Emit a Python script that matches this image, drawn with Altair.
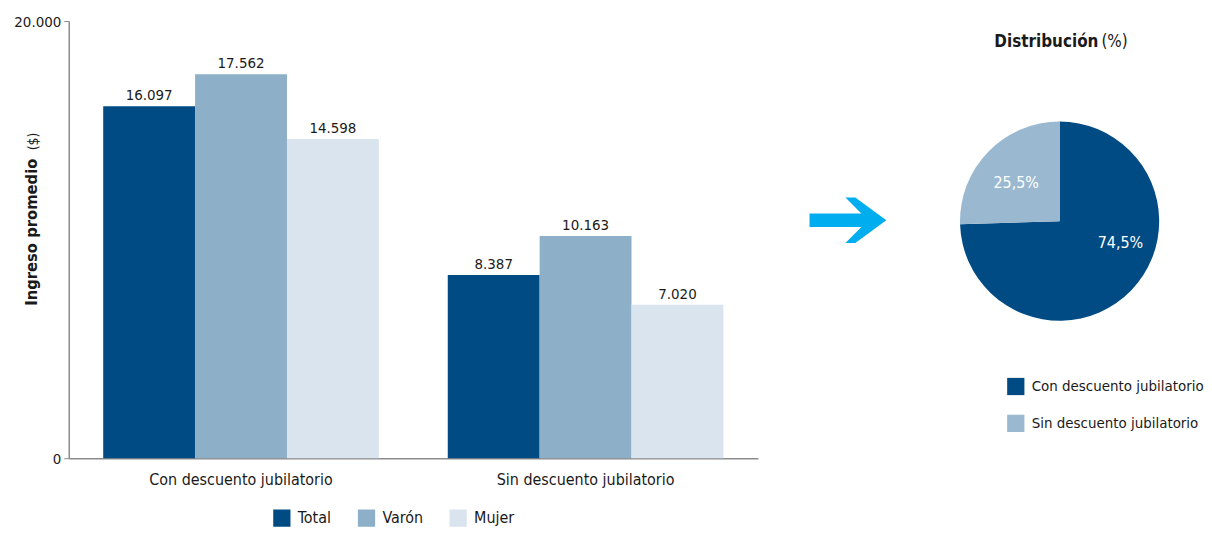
import altair as alt
import pandas as pd

# ---------------- data ----------------
categorias = ["Con descuento jubilatorio", "Sin descuento jubilatorio"]
grupos = ["Total", "Varón", "Mujer"]
total = [16097, 8387]
varon = [17562, 10163]
mujer = [14598, 7020]
y_ticks = [0, 20000]

pie_cats = ["Con descuento jubilatorio", "Sin descuento jubilatorio"]
pie_vals = [74.5, 25.5]

titulo_y = "Ingreso promedio"
titulo_y_unidad = "($)"
titulo_pie = "Distribución"
titulo_pie_unidad = "(%)"

rows = []
for i, c in enumerate(categorias):
    for g, vals in zip(grupos, [total, varon, mujer]):
        rows.append({"cat": c, "grupo": g, "valor": vals[i]})
df = pd.DataFrame(rows)

pdf = pd.DataFrame({"cat": pie_cats, "pct": pie_vals, "orden": list(range(len(pie_cats)))})

FONT = "DejaVu Sans Condensed"
TXT = "#1a1a1a"
bar_colors = ["#004B84", "#8EAFC8", "#D9E4EE"]
pie_colors = ["#004B84", "#9AB8CF"]

# ---------------- bar chart ----------------
base = alt.Chart(df).transform_calculate(
    lab="replace(format(datum.valor, ','), ',', '.')"
).encode(
    x=alt.X(
        "cat:N", sort=categorias,
        scale=alt.Scale(paddingInner=0.2, paddingOuter=0.1),
        axis=alt.Axis(title=None, labelAngle=0, ticks=False, labelFontSize=16,
                      labelPadding=13, domainColor="#8c8c8c", domainWidth=1.5,
                      labelColor=TXT, labelLimit=400),
    ),
    xOffset=alt.XOffset("grupo:N", sort=grupos),
    y=alt.Y(
        "valor:Q",
        scale=alt.Scale(domain=[0, 20000]),
        axis=alt.Axis(values=y_ticks, title=None,
                      labelExpr="replace(format(datum.value, ','), ',', '.')",
                      grid=False, labelFontSize=15, labelColor=TXT,
                      domainColor="#8c8c8c", domainWidth=1.5,
                      tickColor="#8c8c8c", tickSize=5, labelPadding=3),
    ),
)

bars = base.mark_bar().encode(
    color=alt.Color(
        "grupo:N", sort=grupos,
        scale=alt.Scale(domain=grupos, range=bar_colors),
        legend=alt.Legend(title=None, orient="none", direction="horizontal",
                          legendX=205, legendY=490,
                          symbolType="square", symbolSize=300, symbolStrokeWidth=0,
                          labelFontSize=16, labelColor=TXT, columnPadding=26,
                          labelOffset=7),
    )
)
bar_labels = base.mark_text(dy=-11, fontSize=15, color=TXT).encode(text="lab:N")

ydf = pd.DataFrame({"t": [titulo_y], "u": [titulo_y_unidad]})
ytitle_bold = alt.Chart(ydf).mark_text(angle=270, fontSize=16.5, fontWeight="bold",
                                       align="left", color=TXT).encode(
    text="t:N", x=alt.value(-37), y=alt.value(286))
ytitle_unit = alt.Chart(ydf).mark_text(angle=270, fontSize=14, align="right",
                                       color=TXT).encode(
    text="u:N", x=alt.value(-35), y=alt.value(112))

bar_chart = alt.layer(bars, bar_labels, ytitle_bold, ytitle_unit).properties(
    width=692, height=439)

# ---------------- pie + arrow ----------------
CX, CY = 303, 201

pbase = alt.Chart(pdf).transform_calculate(
    lab="replace(format(datum.pct, '.1f'), '.', ',') + '%'"
).encode(
    theta=alt.Theta("pct:Q", stack=True),
    order=alt.Order("orden:Q"),
)
arc = pbase.mark_arc(radius=100).encode(
    x=alt.value(CX), y=alt.value(CY),
    color=alt.Color(
        "cat:N", sort=pie_cats,
        scale=alt.Scale(domain=pie_cats, range=pie_colors),
        legend=alt.Legend(title=None, orient="none", legendX=250, legendY=358,
                          symbolType="square", symbolSize=300, symbolStrokeWidth=0,
                          labelFontSize=15, labelColor=TXT, rowPadding=19,
                          labelOffset=7, labelLimit=300),
    ),
)
arc_text_con = pbase.mark_text(radius=65, thetaOffset=-0.42, fontSize=16,
                               color="white").encode(
    x=alt.value(CX), y=alt.value(CY),
    text=alt.condition("datum.orden == 0", "lab:N", alt.value("")),
)
arc_text_sin = pbase.mark_text(radius=58, thetaOffset=-0.05, fontSize=16,
                               color="white").encode(
    x=alt.value(CX), y=alt.value(CY),
    text=alt.condition("datum.orden == 1", "lab:N", alt.value("")),
)

tdf = pd.DataFrame({"t": [titulo_pie], "u": [titulo_pie_unidad]})
title_bold = alt.Chart(tdf).mark_text(fontSize=17, fontWeight="bold", align="right",
                                      color=TXT).encode(
    text="t:N", x=alt.value(342), y=alt.value(21))
title_unit = alt.Chart(tdf).mark_text(fontSize=17, align="left", color=TXT).encode(
    text="u:N", x=alt.value(345), y=alt.value(21))

arrow_path = ("M-1.03,-0.18 L0.34,-0.18 L-0.08,-0.6 L0.18,-0.6 L1,0 L0.18,0.6 "
              "L-0.08,0.6 L0.34,0.18 L-1.03,0.18 Z")
arrow = alt.Chart(pd.DataFrame({"a": [1]})).mark_point(
    shape=arrow_path, filled=True, size=5776, color="#00AEEF", opacity=1, strokeWidth=0
).encode(x=alt.value(91), y=alt.value(200))

pie_chart = alt.layer(arc, arc_text_con, arc_text_sin, title_bold, title_unit,
                      arrow).properties(width=430, height=439)

chart = alt.hconcat(bar_chart, pie_chart, spacing=0).resolve_scale(
    color="independent").resolve_legend(color="independent").properties(
    padding={"left": 5, "top": 5, "right": 0, "bottom": 0}).configure(
    font=FONT).configure_view(stroke=None)

chart.save("out.html", embed_options={"renderer": "svg", "actions": False})
